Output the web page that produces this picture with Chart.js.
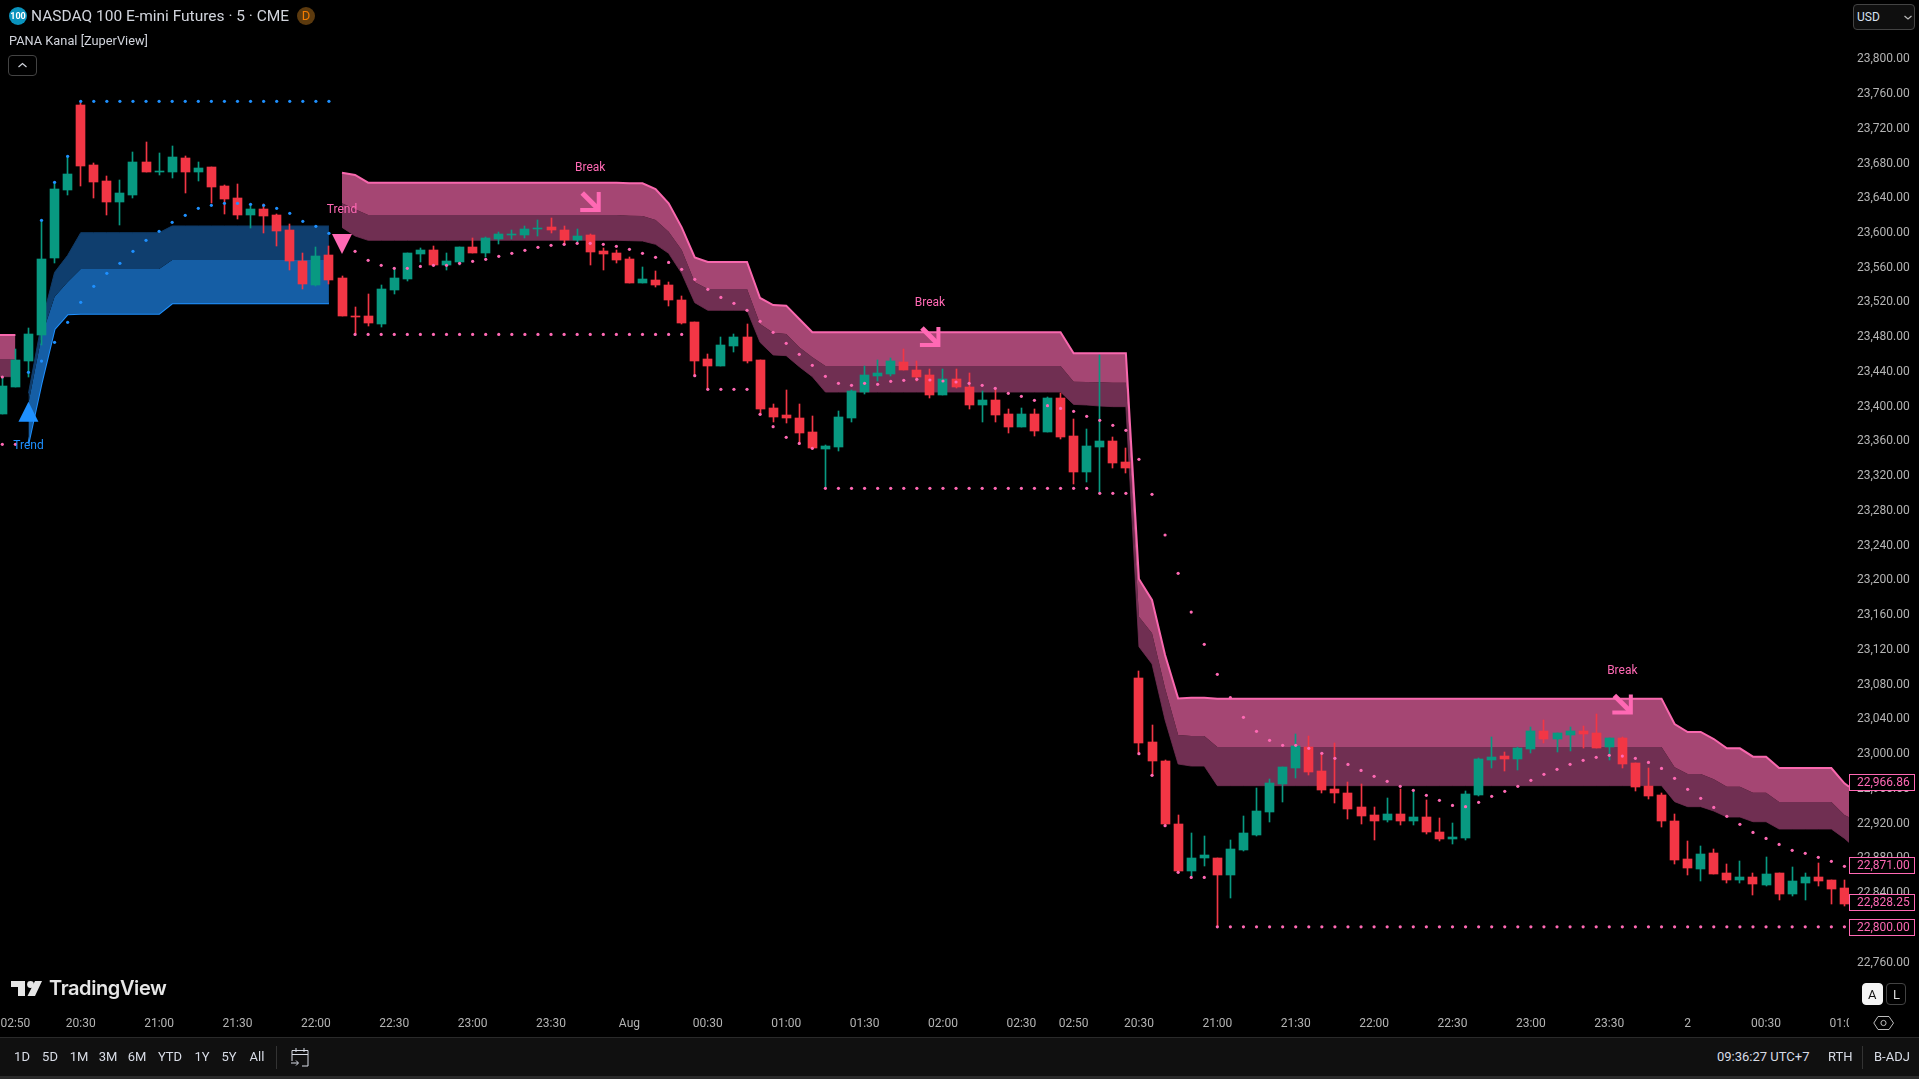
<!DOCTYPE html>
<html>
<head>
<meta charset="utf-8">
<title>NASDAQ 100 E-mini Futures</title>
<script src="https://cdn.jsdelivr.net/npm/chart.js@4"></script>
<style>
html,body{margin:0;padding:0;background:#000;width:1919px;height:1079px;overflow:hidden;font-family:Roboto,sans-serif}
canvas{position:absolute;left:0;top:0}
.txt{position:absolute;white-space:nowrap;line-height:1}
.btn{position:absolute;box-sizing:border-box;border:1px solid #434343;border-radius:4px}
#footer{position:absolute;left:0;top:1037px;width:1919px;height:39px;background:#101010;border-top:1px solid #2a2a2a;box-sizing:border-box}
#strip{position:absolute;left:0;top:1076px;width:1919px;height:3px;background:#2a2a2a}
.range{position:absolute;top:1050px;font-size:13px;line-height:1;color:#d8dce6;transform:translateX(-50%)}
</style>
</head>
<body>
<canvas id="grafico" width="1919" height="1037"></canvas>

<div class="txt" style="left:9px;top:7px;width:18px;height:18px;border-radius:50%;background:#0a93bd;color:#fff;font-size:9px;font-weight:700;text-align:center;line-height:18px">100</div>
<div class="txt" style="left:31px;top:9px;font-size:15.5px;color:#d1d4dc">NASDAQ 100 E-mini Futures · 5 · CME</div>
<div class="txt" style="left:297px;top:7px;width:18px;height:18px;border-radius:50%;background:#5c3a0e;color:#f57c00;font-size:13px;text-align:center;line-height:18px">D</div>
<div class="txt" style="left:9px;top:35px;font-size:12.8px;color:#d1d4dc">PANA Kanal [ZuperView]</div>
<div class="btn" style="left:8px;top:55px;width:29px;height:21px">
  <svg width="27" height="19"><path d="M9.5 11 L13.5 7.5 L17.5 11" fill="none" stroke="#d1d4dc" stroke-width="1.2"/></svg>
</div>

<div class="btn" style="left:1853px;top:4px;width:62px;height:26px;background:#0f0f0f">
  <span class="txt" style="left:3px;top:6px;font-size:12px;color:#d8e2f0">USD</span>
  <svg style="position:absolute;left:49px;top:9px" width="10" height="8"><path d="M1.5 2 L5 5 L8.5 2" fill="none" stroke="#bbb" stroke-width="1.2"/></svg>
</div>

<svg style="position:absolute;left:11px;top:979px" width="34" height="18">
  <path d="M0 2 H14 V17 H7 V8 H0 Z" fill="#e6e6e6"/>
  <circle cx="19.5" cy="5.5" r="3.4" fill="#e6e6e6"/>
  <path d="M24 2 H31 L24 17 H16.5 Z" fill="#e6e6e6"/>
</svg>
<div class="txt" style="left:49px;top:978px;font-family:Inter,Roboto,sans-serif;font-size:20px;font-weight:600;letter-spacing:-0.4px;color:#e6e6e6">TradingView</div>

<div class="btn" style="left:1862px;top:983px;width:21px;height:22px;background:#f4f4f4;border-color:#f4f4f4">
  <span class="txt" style="left:5px;top:4px;font-size:13px;color:#111">A</span>
</div>
<div class="btn" style="left:1886px;top:983px;width:20px;height:22px">
  <span class="txt" style="left:6px;top:4px;font-size:13px;color:#ddd">L</span>
</div>

<!-- cobre o rotulo de tempo cortado no fim -->
<div style="position:absolute;left:1849px;top:1012px;width:70px;height:25px;background:#000">
  <svg style="position:absolute;left:24px;top:2px" width="22" height="18"><path d="M5 2.5 H16 L20.5 9 L16 15.5 H5 L0.8 9 Z" fill="none" stroke="#bbb"/><circle cx="10.5" cy="9" r="2.6" fill="none" stroke="#bbb"/></svg>
</div>

<div id="footer"></div><div id="strip"></div>
<div class="range" style="left:22px">1D</div>
<div class="range" style="left:50px">5D</div>
<div class="range" style="left:79px">1M</div>
<div class="range" style="left:108px">3M</div>
<div class="range" style="left:137px">6M</div>
<div class="range" style="left:170px">YTD</div>
<div class="range" style="left:202px">1Y</div>
<div class="range" style="left:229px">5Y</div>
<div class="range" style="left:257px">All</div>
<div style="position:absolute;left:276px;top:1046px;width:1px;height:23px;background:#333"></div>
<svg style="position:absolute;left:290px;top:1047px" width="20" height="20"><path d="M2 14 V3.5 H18 V19 H12 M2 7.5 H18 M6 1 V5 M14 1 V5 M1 16 H8 M6 13.5 L8.5 16 L6 18.5" fill="none" stroke="#d8dce6"/></svg>
<div class="txt" style="left:1717px;top:1050px;font-size:13px;color:#d8dce6">09:36:27 UTC+7</div>
<div class="txt" style="left:1828px;top:1050px;font-size:13px;color:#d8dce6">RTH</div>
<div style="position:absolute;left:1862px;top:1046px;width:1px;height:23px;background:#333"></div>
<div class="txt" style="left:1874px;top:1050px;font-size:13px;color:#d8dce6">B-ADJ</div>

<script>
// candles (indice = barra de 5 min)
const opens = [
  23390.8,23421.9,23451.8,23481.8,23570.4,23648.3,23746.2,23677.1,23658.7,23634.9,
  23643,23680.6,23669.4,23669.4,23685.2,23669.4,23674.8,23652.9,23639.1,23619.9,
  23626.5,23619.5,23602.3,23566.6,23539.3,23573.5,23547,23503.3,23503.3,23494.4,
  23533.6,23546.2,23574.6,23579.2,23562,23565.8,23582.7,23575.8,23591.9,23596.5,
  23596.5,23603.8,23605.7,23602.3,23590.8,23596.5,23578.1,23575.8,23568.9,23541.3,
  23544.7,23539,23521.7,23496.3,23453.7,23445.7,23468.7,23479.1,23452.6,23397.3,
  23389.3,23385.8,23369.7,23350.1,23352.4,23385.8,23415.7,23434.2,23436.5,23450.3,
  23441.1,23435.3,23412.3,23430.7,23421.5,23400.8,23406.5,23390.4,23375.5,23390.4,
  23369.7,23408.8,23365.1,23323.6,23352.4,23359.3,23335.2,23086.4,23012.8,22990.9,
  22918.4,22864.2,22879.2,22879.2,22859.6,22888.4,22905.7,22932.2,22964.4,22982.8,
  23007,22979.4,22958.6,22954,22937.9,22928.7,22923,22929.9,22921.8,22926.4,
  22909.1,22901.1,22902.2,22951.7,22992,22996.6,22993.2,23004.7,23025.4,23016.2,
  23020.8,23025.4,23023.1,23007,23017.4,22988.6,22962.1,22951.7,22921.8,22878.1,
  22866.5,22885,22861.9,22853.9,22857.3,22848.1,22861.9,22837.8,22850.4,22857.3,
  22853.9,22844.7
];
const highs = [
  23433.4,23464.9,23489.4,23613.4,23657.9,23687.1,23750,23679,23664.5,23659.8,
  23692.1,23703.6,23690.9,23699,23687.5,23680.6,23674.8,23654.1,23655.2,23632.2,
  23632.2,23620.7,23609.2,23575.8,23582.7,23583.9,23549.3,23513.6,23528.6,23538.9,
  23558.5,23575.8,23581.6,23583.9,23575.8,23582.7,23593.1,23594.2,23600,23602.3,
  23606.9,23613.8,23616.1,23606.9,23603.4,23597.7,23581.6,23579.2,23571.2,23559.7,
  23555.1,23542.4,23526.3,23496.3,23459.5,23479.1,23482.5,23494,23452.6,23401.9,
  23418.1,23401.9,23388.1,23354.7,23393.9,23418.1,23445.7,23452.6,23454.9,23465.3,
  23451.4,23442.2,23442.2,23442.2,23437.6,23416.9,23420.4,23396.2,23397.3,23396.2,
  23410,23414.6,23384.7,23373.1,23458.4,23363.9,23351.3,23094.5,23032.3,22992,
  22928.7,22908,22904.5,22879.2,22899.9,22927.6,22959.8,22970.2,22984,23022,
  23019.7,22998.9,23011.6,22966.7,22964.4,22937.9,22948.3,22958.6,22957.5,22946,
  22925.2,22919.5,22956.3,22994.3,23018.5,23001.2,23007,23030,23038.1,23023.1,
  23030,23031.2,23045,23017.4,23018.5,22988.6,22982.8,22954,22929.9,22898.8,
  22893,22889.6,22872.3,22875.7,22861.9,22880.4,22861.9,22868.8,22861.9,22873.4,
  22853.9,22853.9
];
const lows = [
  23390.8,23421.9,23432.6,23470.2,23564.7,23643,23653.3,23639.5,23619.9,23608.4,
  23639.5,23669.4,23665.6,23662.5,23645.3,23658.7,23633.7,23621.1,23615.3,23605,
  23599.2,23584.2,23556.6,23534.7,23538.2,23540.5,23503.6,23482.1,23491.7,23491,
  23529,23543.9,23565.4,23560.8,23556.6,23562,23575.8,23571.2,23586.2,23591.9,
  23593.1,23595.4,23598.8,23585,23588.5,23562,23556.2,23564.3,23541.3,23541.3,
  23536.6,23514.8,23494,23434.2,23418.1,23445.7,23461.8,23449.1,23389.3,23381.6,
  23380.1,23355.9,23350.1,23304.8,23347.8,23381.2,23413.4,23428.4,23434.2,23441.1,
  23428.4,23408.8,23412.3,23420.4,23396.2,23381.2,23381.2,23368.5,23375.5,23365.1,
  23369.7,23361.6,23309.8,23312.1,23299.1,23328.2,23322.5,22998.9,22973.6,22916,
  22861.9,22857.3,22870,22799.4,22833.1,22887.3,22904.5,22920.6,22943.7,22971.3,
  22974.8,22954,22942.5,22924.1,22918.4,22899.9,22920.6,22917.2,22917.2,22906.8,
  22898.8,22895.3,22899.9,22950.6,22982.8,22979.4,22980.5,23000.1,23011.6,23001.2,
  23002.4,23005.9,23005.9,22992,22982.8,22956.3,22947.1,22914.9,22872.3,22859.6,
  22852.7,22860.8,22850.4,22850.4,22836.6,22847,22830.8,22835.4,22830.8,22847,
  22826.2,22823.9
];
const closes = [
  23422.7,23452.6,23482.5,23568.9,23649.5,23666.8,23676.4,23657.9,23634.9,23644.9,
  23680.6,23669.4,23670.2,23686.3,23669.4,23673.7,23652.2,23638.4,23619.9,23626.5,
  23618.8,23601.5,23567,23540.5,23572.3,23545.1,23503.6,23502.5,23495.2,23534.3,
  23547,23575.8,23579.2,23562,23566.6,23582.7,23575.8,23593.1,23597.7,23597.3,
  23603.4,23604.6,23602.3,23590.8,23595.4,23576.9,23574.6,23567.7,23541.3,23545.9,
  23539,23521.7,23495.2,23451.4,23445.7,23469.9,23479.1,23451.4,23396.2,23387,
  23385.8,23368.5,23351.3,23353.6,23387,23416.9,23435.3,23437.6,23451.4,23441.1,
  23433,23412.3,23430.7,23421.5,23400.8,23406.5,23389.3,23375.5,23390.4,23370.8,
  23408.8,23363.9,23323.6,23353.6,23359.3,23334,23328.2,23011.6,22990.9,22918.4,
  22864.2,22879.2,22882.7,22859.6,22889.6,22908,22933.3,22965.6,22984,23008.2,
  22978.2,22957.5,22954,22935.6,22927.6,22921.8,22929.9,22921.8,22926.4,22909.1,
  22901.1,22903.4,22952.9,22993.2,22995.5,22993.2,23005.9,23025.4,23016.2,23023.1,
  23025.4,23022,23005.9,23017.4,22987.4,22961,22950.6,22921.8,22876.9,22867.7,
  22883.8,22860.8,22853.9,22857.3,22849.3,22860.8,22837.8,22852.7,22857.3,22852.7,
  22843.5,22826.2
];

// canal rosa: topo, meio, base
const n = null;
const pinkTop = [
  23481.4,23481.4,n,n,n,n,n,n,n,n,
  n,n,n,n,n,n,n,n,n,n,
  n,n,n,n,n,n,23668.3,23665.6,23656.8,23656.8,
  23656.8,23656.8,23656.8,23656.8,23656.8,23656.8,23656.8,23656.8,23656.8,23656.8,
  23656.8,23656.8,23656.8,23656.8,23656.8,23656.8,23656.8,23656.8,23656,23656,
  23649.5,23633,23605.3,23570.8,23565.4,23565.4,23565.4,23565.4,23524,23515.9,
  23515.2,23499.8,23484.5,23484.5,23484.5,23484.5,23484.5,23484.5,23484.5,23484.5,
  23484.5,23484.5,23484.5,23484.5,23484.5,23484.5,23484.5,23484.5,23484.5,23484.5,
  23484.5,23484.5,23460.3,23460.3,23460.3,23460.3,23460.3,23200.4,23176.3,23112.9,
  23063,23063.8,23063.8,23062.7,23062.7,23062.7,23062.7,23062.7,23062.7,23062.7,
  23062.7,23062.7,23062.7,23062.7,23062.7,23062.7,23062.7,23062.7,23062.7,23062.7,
  23062.7,23062.7,23062.7,23062.7,23062.7,23062.7,23062.7,23062.7,23062.7,23062.7,
  23062.7,23062.7,23062.7,23062.7,23062.7,23062.7,23062.7,23062.7,23033.5,23024.3,
  23024.3,23016.2,23005.5,23005.5,22995.9,22995.9,22982.8,22982.8,22982.8,22982.8,
  22982.8,22965.2
];
const pinkMid = [
  23453.7,23453.7,n,n,n,n,n,n,n,n,
  n,n,n,n,n,n,n,n,n,n,
  n,n,n,n,n,n,23633,23626.1,23619.5,23619.5,
  23619.5,23619.5,23619.5,23619.5,23619.5,23619.5,23619.5,23619.5,23619.5,23619.5,
  23619.5,23619.5,23619.5,23619.5,23619.5,23619.5,23619.5,23619.5,23618.8,23618.4,
  23613.8,23600.4,23579.2,23542,23534.3,23534.3,23534.3,23534.3,23494,23484.1,
  23482.5,23467.2,23455.7,23445.7,23445.7,23445.7,23445.7,23445.7,23445.7,23445.7,
  23445.7,23445.7,23445.7,23445.7,23445.7,23445.7,23445.7,23445.7,23445.7,23445.7,
  23445.7,23445.7,23427.6,23427.3,23426.9,23426.5,23426.5,23157.1,23137.9,23074.6,
  23020.8,23019.7,23019.7,23007,23007,23007,23007,23007,23007,23007,
  23007,23007,23007,23007,23007,23007,23007,23007,23007,23007,
  23007,23007,23007,23007,23007,23007,23007,23007,23007,23007,
  23007,23007,23007,23007,23007,23007,23007,23007,22983.6,22975.9,
  22975.9,22969.8,22961.3,22961.3,22954.4,22954.4,22943.7,22943.7,22943.7,22943.7,
  22943.7,22928.7
];
const pinkLow = [
  23433.4,23433.4,n,n,n,n,n,n,n,n,
  n,n,n,n,n,n,n,n,n,n,
  n,n,n,n,n,n,23605.3,23595.4,23590.4,23590.4,
  23590.4,23590.4,23590.4,23590.4,23590.4,23590.4,23590.4,23590.4,23590.4,23590.4,
  23590.4,23590.4,23590.4,23590.4,23590.4,23590.4,23590.4,23590.4,23590,23589.6,
  23585.8,23575.4,23552.4,23518.6,23509.8,23509.8,23509.8,23509.8,23472.9,23458.4,
  23457.6,23444.9,23433.4,23415.7,23415.7,23415.7,23415.7,23415.7,23415.7,23415.7,
  23415.7,23415.7,23415.7,23415.7,23415.7,23415.7,23415.7,23415.7,23415.7,23415.7,
  23415.7,23415.7,23401.5,23400.8,23399.6,23398.9,23398.9,23122.5,23102.6,23038.1,
  22987.4,22985.1,22985.1,22962.5,22962.5,22962.5,22962.5,22962.5,22962.5,22962.5,
  22962.5,22962.5,22962.5,22962.5,22962.5,22962.5,22962.5,22962.5,22962.5,22962.5,
  22962.5,22962.5,22962.5,22962.5,22962.5,22962.5,22962.5,22962.5,22962.5,22962.5,
  22962.5,22962.5,22962.5,22962.5,22962.5,22962.5,22962.5,22962.5,22944.1,22938.3,
  22938.3,22933.3,22926.4,22926.4,22921,22921,22912.6,22912.6,22912.6,22912.6,
  22912.6,22901.8
];
// o canal passa um pouco da ultima barra, ate a borda do eixo de preco
const pinkEndBar = 141.35;
const pinkEndValues = [22961.3,22926.1,22897.2];

// canal azul
const blueTop = [n,n,23414.2,23494.8,23553.5,23573.1,23599.2,23599.2,23599.2,23599.2,
  23599.2,23599.2,23599.2,23606.9,23606.9,23606.9,23606.9,23606.9,23606.9,23606.9,
  23606.9,23606.9,23606.9,23606.9,23606.9,23606.9];
const blueMid = [n,n,23402.7,23479.5,23525.5,23542.4,23557.4,23557.4,23557.4,23557.4,
  23557.4,23557.4,23557.4,23567.7,23567.7,23567.7,23567.7,23567.7,23567.7,23567.7,
  23567.7,23567.7,23567.7,23567.7,23567.7,23567.7];
const blueLow = [n,n,23356.6,23425.7,23488.3,23505.2,23505.9,23505.9,23505.9,23505.9,
  23505.9,23505.9,23505.9,23517.8,23517.8,23517.8,23517.8,23517.8,23517.8,23517.8,
  23517.8,23517.8,23517.8,23517.8,23517.8,23517.8];

// pontos
const blueHighDots = [n,n,23438.4,23613.4,23657.2,23687.1,23750.4,23750.4,23750.4,23750.4,
  23750.4,23750.4,23750.4,23750.4,23750.4,23750.4,23750.4,23750.4,23750.4,23750.4,
  23750.4,23750.4,23750.4,23750.4,23750.4,23750.4];
const blueTrailDots = [n,n,n,23451.4,23472.9,23496,23519,23537.4,23552.4,23563.9,
  23577.7,23590.4,23600.7,23611.1,23619.2,23627.2,23630.7,23633,23633,23631.8,
  23630.7,23627.2,23621.5,23612.3,23606.5,23598.4];
const pinkLowDots = [
  23355.5,23355.5,n,n,n,n,n,n,n,n,
  n,n,n,n,n,n,n,n,n,n,
  n,n,n,n,n,n,n,23482.1,23482.1,23482.1,
  23482.1,23482.1,23482.1,23482.1,23482.1,23482.1,23482.1,23482.1,23482.1,23482.1,
  23482.1,23482.1,23482.1,23482.1,23482.1,23482.1,23482.1,23482.1,23482.1,23482.1,
  23482.1,23482.1,23482.1,23434.6,23418.8,23418.8,23418.8,23418.8,23390,23375.8,
  23363.6,23356.6,23350.9,23304.8,23304.8,23304.8,23304.8,23304.8,23304.8,23304.8,
  23304.8,23304.8,23304.8,23304.8,23304.8,23304.8,23304.8,23304.8,23304.8,23304.8,
  23304.8,23304.8,23304.8,23304.8,23299.1,23299.1,23299.1,22999.3,22974.4,22916.4,
  22862.7,22856.9,22856.9,22800,22800,22800,22800,22800,22800,22800,
  22800,22800,22800,22800,22800,22800,22800,22800,22800,22800,
  22800,22800,22800,22800,22800,22800,22800,22800,22800,22800,
  22800,22800,22800,22800,22800,22800,22800,22800,22800,22800,
  22800,22800,22800,22800,22800,22800,22800,22800,22800,22800,
  22800,22800
];
const pinkTrailDots = [
  23433,n,n,n,n,n,n,n,n,n,
  n,n,n,n,n,n,n,n,n,n,
  n,n,n,n,n,n,n,23577.7,23567.4,23561.6,
  23558.1,23558.1,23560.4,23561.6,23561.6,23563.9,23566.2,23568.5,23572,23575.4,
  23578.9,23582.3,23584.6,23585.8,23586.9,23586.9,23585.8,23583.5,23580,23575.4,
  23570.8,23565,23557,23545.5,23534,23524.7,23517.8,23509.8,23497.1,23484.5,
  23471.8,23459.1,23446.5,23433.8,23425.7,23423.4,23425.7,23424.6,23428,23429.2,
  23430.3,23429.6,23428.4,23427.3,23425.7,23423.4,23420,23414.2,23410.8,23406.2,
  23400,23396.9,23393.5,23387.7,23383.1,23377.4,23371.6,23338.2,23297.9,23251.1,
  23207,23162.4,23125.2,23090.7,23063.8,23041.2,23025.1,23014.7,23008.9,23008.9,
  23005.5,22999.7,22994,22987,22980.1,22973.2,22967.5,22961.7,22957.1,22951.4,
  22945.6,22939.8,22938.3,22943.3,22950.2,22956,22961.7,22968.6,22975.5,22981.3,
  22987.1,22991.7,22995.1,22997.4,22996.6,22994,22989.3,22982.4,22970.9,22958.3,
  22947.9,22937.5,22927.2,22918,22908.7,22901.8,22894.9,22888,22884.6,22880,
  22875.4,22869.6
];

// eixos
const priceTicks = [22760,22800,22840,22880,22920,22960,23000,23040,23080,23120,23160,23200,23240,23280,
  23320,23360,23400,23440,23480,23520,23560,23600,23640,23680,23720,23760,23800];
const timeTickBars = [1,6,12,18,24,30,36,42,48,54,60,66,72,78,82,87,93,99,105,111,117,123,129,135,141];
const timeTickLabels = ["02:50","20:30","21:00","21:30","22:00","22:30","23:00","23:30","Aug","00:30","01:00","01:30",
  "02:00","02:30","02:50","20:30","21:00","21:30","22:00","22:30","23:00","23:30","2","00:30","01:00"];

// marcadores e etiquetas de preco
const trendBars = [2,26];
const trendPrices = [23393.1,23586.2];
const breakBars = [45,71,124];
const breakPrices = [23634.5,23479,23055.9];
const tagPrices = [22966.86,22871,22828.25,22800];

const VERMELHO = "#f23645", VERDE = "#089981", ROSA = "#ff69b4", AZUL = "#1e90ff";
const corCandle = opens.map((o,i) => closes[i] >= o ? VERDE : VERMELHO);
const pts = arr => arr.map((v,i) => ({x:i, y:v}));
// rosa: comeca na borda esquerda e termina na borda do eixo
const ptsRosa = (arr,k) => [{x:-1, y:arr[0]}, ...pts(arr), {x:pinkEndBar, y:pinkEndValues[k]}];

function dots(arr, cor){
  return {type:"line", data:pts(arr), showLine:false, pointRadius:1.6, pointBackgroundColor:cor,
    pointBorderWidth:0, order:1};
}
function banda(data, borda, largura, fill, cor){
  return {type:"line", data:data, borderColor:borda, borderWidth:largura, pointRadius:0, tension:0,
    fill:fill, backgroundColor:cor, spanGaps:false, order:5};
}

// alinha corpos e pavios ao pixel, como no grafico original
const pixelPlugin = {
  id:"pixel",
  afterDatasetsUpdate(chart){
    chart.getSortedVisibleDatasetMetas().forEach(meta => {
      if(meta.type !== "bar") return;
      meta.data.forEach(el => {
        el.x = Math.floor(el.x) + 0.5;
        el.y = Math.round(el.y);
        el.base = Math.round(el.base);
        if(Math.abs(el.base - el.y) < 1) el.base = el.y + 1;
      });
    });
  }
};

const marcasPlugin = {
  id:"marcas",
  afterDraw(chart){
    const {ctx, scales:{x, y}} = chart;
    ctx.save();
    ctx.font = "12px Roboto";
    ctx.textAlign = "center";
    ctx.textBaseline = "middle";

    // trend: seta azul para cima, rosa para baixo
    const px0 = x.getPixelForValue(trendBars[0]), py0 = y.getPixelForValue(trendPrices[0]);
    ctx.fillStyle = AZUL;
    ctx.beginPath(); ctx.moveTo(px0,py0-10); ctx.lineTo(px0+10,py0+10); ctx.lineTo(px0-10,py0+10); ctx.fill();
    ctx.fillText("Trend", px0, py0+34);
    const px1 = x.getPixelForValue(trendBars[1]), py1 = y.getPixelForValue(trendPrices[1]);
    ctx.fillStyle = ROSA;
    ctx.beginPath(); ctx.moveTo(px1-10,py1-10); ctx.lineTo(px1+10,py1-10); ctx.lineTo(px1,py1+10); ctx.fill();
    ctx.fillText("Trend", px1, py1-34);

    // break
    breakBars.forEach((b,i) => {
      const px = x.getPixelForValue(b), py = y.getPixelForValue(breakPrices[i]);
      ctx.fillStyle = ROSA;
      ctx.fillText("Break", px, py-34);
      ctx.strokeStyle = ROSA;
      ctx.lineWidth = 5;
      ctx.beginPath(); ctx.moveTo(px-8,py-9); ctx.lineTo(px+8,py+7); ctx.stroke();
      ctx.lineWidth = 4;
      ctx.beginPath(); ctx.moveTo(px+8.5,py-10); ctx.lineTo(px+8.5,py+8); ctx.lineTo(px-10,py+8); ctx.stroke();
    });

    // etiquetas no eixo de preco
    ctx.textAlign = "left";
    tagPrices.forEach(p => {
      const py = Math.round(y.getPixelForValue(p)) + 1;
      ctx.fillStyle = "#000";
      ctx.fillRect(1849.5, py-8.5, 65, 16);
      ctx.strokeStyle = ROSA;
      ctx.lineWidth = 1;
      ctx.strokeRect(1849.5, py-8.5, 65, 16);
      ctx.fillStyle = ROSA;
      ctx.fillText(p.toLocaleString("en-US",{minimumFractionDigits:2}), 1857, py);
    });
    ctx.restore();
  }
};

// sem folga automatica em volta da area do grafico
function semPadding(s){
  s.paddingLeft = s.paddingRight = s.paddingTop = s.paddingBottom = 0;
}

new Chart(document.getElementById("grafico").getContext("2d"), {
  type:"bar",
  data:{
    datasets:[
      // bandas
      banda(ptsRosa(pinkTop,0), "#f968ae", 2, "+1", "#a54673"),
      banda(ptsRosa(pinkMid,1), "rgba(0,0,0,0)", 0, "+1", "#702f52"),
      banda(ptsRosa(pinkLow,2), "#5a2542", 1, false, "transparent"),
      banda(pts(blueTop), "#0f3a66", 1, "+1", "#0f3e6e"),
      banda(pts(blueMid), "rgba(0,0,0,0)", 0, "+1", "#155ea5"),
      banda(pts(blueLow), AZUL, 2, false, "transparent"),
      // pavios e corpos
      {data:opens.map((o,i) => ({x:i, y:[lows[i], highs[i]]})), backgroundColor:corCandle, barThickness:1, grouped:false, order:4},
      {data:opens.map((o,i) => ({x:i, y:[o, closes[i]]})), backgroundColor:corCandle, barThickness:9, grouped:false, order:3},
      // pontos
      dots(blueHighDots, AZUL),
      dots(blueTrailDots, AZUL),
      dots(pinkLowDots, ROSA),
      dots(pinkTrailDots, ROSA)
    ]
  },
  options:{
    responsive:false,
    animation:false,
    events:[],
    layout:{autoPadding:false, padding:0},
    plugins:{legend:{display:false}, tooltip:{enabled:false}},
    scales:{
      x:{
        type:"linear", position:"bottom", offset:false,
        min:-0.178, max:141.35,
        grid:{display:false, drawTicks:false}, border:{display:false},
        afterFit(s){ s.height = 25; semPadding(s); },
        afterBuildTicks(s){ s.ticks = timeTickBars.map(v => ({value:v})); },
        ticks:{
          autoSkip:false, maxRotation:0, padding:5, color:"#b4b4b4",
          font:{family:"Roboto", size:12},
          callback:v => timeTickLabels[timeTickBars.indexOf(v)]
        }
      },
      y:{
        type:"linear", position:"right",
        min:22701.9, max:23867.1,
        grid:{display:false, drawTicks:false}, border:{display:false},
        afterFit(s){ s.width = 70; semPadding(s); },
        afterBuildTicks(s){ s.ticks = priceTicks.map(v => ({value:v})); },
        ticks:{
          padding:8, color:"#b4b4b4", crossAlign:"near", labelOffset:1,
          font:{family:"Roboto", size:12},
          callback:v => v.toLocaleString("en-US",{minimumFractionDigits:2})
        }
      }
    }
  },
  plugins:[pixelPlugin, marcasPlugin]
});
</script>
</body>
</html>
